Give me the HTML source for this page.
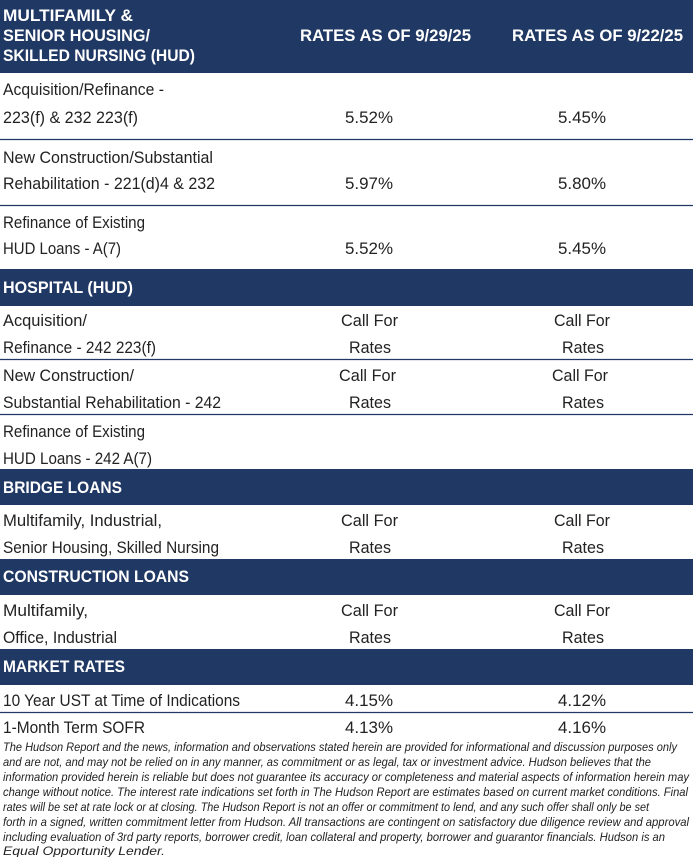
<!DOCTYPE html>
<html><head><meta charset="utf-8"><style>
html,body{margin:0;padding:0;background:#fff;}
svg{display:block;}
text{font-family:"Liberation Sans",sans-serif;}
.h{font-weight:bold;fill:#fff;font-size:17px;}
.b{fill:#222;font-size:16.5px;}
.f{fill:#222;font-size:12px;font-style:italic;}
</style></head><body>
<svg width="693" height="857" viewBox="0 0 693 857" xmlns="http://www.w3.org/2000/svg">
<rect x="0" y="0" width="693" height="73" fill="#203864"/>
<rect x="0" y="269" width="693" height="37" fill="#203864"/>
<rect x="0" y="469" width="693" height="36" fill="#203864"/>
<rect x="0" y="559" width="693" height="36" fill="#203864"/>
<rect x="0" y="649" width="693" height="36" fill="#203864"/>
<g stroke="#203864" stroke-width="1.3">
<line x1="0" y1="139.5" x2="693" y2="139.5"/>
<line x1="0" y1="205.5" x2="693" y2="205.5"/>
<line x1="0" y1="359.5" x2="693" y2="359.5"/>
<line x1="0" y1="414.5" x2="693" y2="414.5"/>
<line x1="0" y1="712.5" x2="693" y2="712.5"/>
</g>
<text class="h" x="3" y="21" textLength="130" lengthAdjust="spacingAndGlyphs">MULTIFAMILY &amp;</text>
<text class="h" x="3" y="41" textLength="147" lengthAdjust="spacingAndGlyphs">SENIOR HOUSING/</text>
<text class="h" x="3" y="61" textLength="192" lengthAdjust="spacingAndGlyphs">SKILLED NURSING (HUD)</text>
<text class="h" x="300" y="41" textLength="171" lengthAdjust="spacingAndGlyphs">RATES AS OF 9/29/25</text>
<text class="h" x="512" y="41" textLength="171" lengthAdjust="spacingAndGlyphs">RATES AS OF 9/22/25</text>

<text class="b" x="3" y="95" textLength="161" lengthAdjust="spacingAndGlyphs">Acquisition/Refinance -</text>
<text class="b" x="3" y="123" textLength="135" lengthAdjust="spacingAndGlyphs">223(f) &amp; 232 223(f)</text>
<text class="b" x="345" y="123" textLength="48" lengthAdjust="spacingAndGlyphs">5.52%</text>
<text class="b" x="558" y="123" textLength="48" lengthAdjust="spacingAndGlyphs">5.45%</text>

<text class="b" x="3" y="163" textLength="210" lengthAdjust="spacingAndGlyphs">New Construction/Substantial</text>
<text class="b" x="3" y="189" textLength="212" lengthAdjust="spacingAndGlyphs">Rehabilitation - 221(d)4 &amp; 232</text>
<text class="b" x="345" y="189" textLength="48" lengthAdjust="spacingAndGlyphs">5.97%</text>
<text class="b" x="558" y="189" textLength="48" lengthAdjust="spacingAndGlyphs">5.80%</text>

<text class="b" x="3" y="228" textLength="142" lengthAdjust="spacingAndGlyphs">Refinance of Existing</text>
<text class="b" x="3" y="254" textLength="118" lengthAdjust="spacingAndGlyphs">HUD Loans - A(7)</text>
<text class="b" x="345" y="254" textLength="48" lengthAdjust="spacingAndGlyphs">5.52%</text>
<text class="b" x="558" y="254" textLength="48" lengthAdjust="spacingAndGlyphs">5.45%</text>

<text class="h" x="3" y="293" textLength="130" lengthAdjust="spacingAndGlyphs">HOSPITAL (HUD)</text>

<text class="b" x="3" y="326" textLength="84" lengthAdjust="spacingAndGlyphs">Acquisition/</text>
<text class="b" x="3" y="353" textLength="153" lengthAdjust="spacingAndGlyphs">Refinance - 242 223(f)</text>
<text class="b" x="341" y="326" textLength="57" lengthAdjust="spacingAndGlyphs">Call For</text>
<text class="b" x="349" y="353" textLength="42" lengthAdjust="spacingAndGlyphs">Rates</text>
<text class="b" x="554" y="326" textLength="56" lengthAdjust="spacingAndGlyphs">Call For</text>
<text class="b" x="562" y="353" textLength="42" lengthAdjust="spacingAndGlyphs">Rates</text>

<text class="b" x="3" y="381" textLength="131" lengthAdjust="spacingAndGlyphs">New Construction/</text>
<text class="b" x="3" y="408" textLength="218" lengthAdjust="spacingAndGlyphs">Substantial Rehabilitation - 242</text>
<text class="b" x="339" y="381" textLength="57" lengthAdjust="spacingAndGlyphs">Call For</text>
<text class="b" x="349" y="408" textLength="42" lengthAdjust="spacingAndGlyphs">Rates</text>
<text class="b" x="552" y="381" textLength="56" lengthAdjust="spacingAndGlyphs">Call For</text>
<text class="b" x="562" y="408" textLength="42" lengthAdjust="spacingAndGlyphs">Rates</text>

<text class="b" x="3" y="437" textLength="142" lengthAdjust="spacingAndGlyphs">Refinance of Existing</text>
<text class="b" x="3" y="464" textLength="149" lengthAdjust="spacingAndGlyphs">HUD Loans - 242 A(7)</text>

<text class="h" x="3" y="493" textLength="119" lengthAdjust="spacingAndGlyphs">BRIDGE LOANS</text>
<text class="b" x="3" y="526" textLength="159" lengthAdjust="spacingAndGlyphs">Multifamily, Industrial,</text>
<text class="b" x="3" y="553" textLength="216" lengthAdjust="spacingAndGlyphs">Senior Housing, Skilled Nursing</text>
<text class="b" x="341" y="526" textLength="57" lengthAdjust="spacingAndGlyphs">Call For</text>
<text class="b" x="349" y="553" textLength="42" lengthAdjust="spacingAndGlyphs">Rates</text>
<text class="b" x="554" y="526" textLength="56" lengthAdjust="spacingAndGlyphs">Call For</text>
<text class="b" x="562" y="553" textLength="42" lengthAdjust="spacingAndGlyphs">Rates</text>

<text class="h" x="3" y="582" textLength="186" lengthAdjust="spacingAndGlyphs">CONSTRUCTION LOANS</text>
<text class="b" x="3" y="616" textLength="85" lengthAdjust="spacingAndGlyphs">Multifamily,</text>
<text class="b" x="3" y="643" textLength="114" lengthAdjust="spacingAndGlyphs">Office, Industrial</text>
<text class="b" x="341" y="616" textLength="57" lengthAdjust="spacingAndGlyphs">Call For</text>
<text class="b" x="349" y="643" textLength="42" lengthAdjust="spacingAndGlyphs">Rates</text>
<text class="b" x="554" y="616" textLength="56" lengthAdjust="spacingAndGlyphs">Call For</text>
<text class="b" x="562" y="643" textLength="42" lengthAdjust="spacingAndGlyphs">Rates</text>

<text class="h" x="3" y="672" textLength="122" lengthAdjust="spacingAndGlyphs">MARKET RATES</text>
<text class="b" x="3" y="706" textLength="237" lengthAdjust="spacingAndGlyphs">10 Year UST at Time of Indications</text>
<text class="b" x="345" y="706" textLength="48" lengthAdjust="spacingAndGlyphs">4.15%</text>
<text class="b" x="558" y="706" textLength="48" lengthAdjust="spacingAndGlyphs">4.12%</text>
<text class="b" x="3" y="733" textLength="142" lengthAdjust="spacingAndGlyphs">1-Month Term SOFR</text>
<text class="b" x="345" y="733" textLength="48" lengthAdjust="spacingAndGlyphs">4.13%</text>
<text class="b" x="558" y="733" textLength="48" lengthAdjust="spacingAndGlyphs">4.16%</text>

<text class="f" x="3" y="751" textLength="674" lengthAdjust="spacingAndGlyphs">The Hudson Report and the news, information and observations stated herein are provided for informational and discussion purposes only</text>
<text class="f" x="3" y="766" textLength="648" lengthAdjust="spacingAndGlyphs">and are not, and may not be relied on in any manner, as commitment or as legal, tax or investment advice. Hudson believes that the</text>
<text class="f" x="3" y="781" textLength="686" lengthAdjust="spacingAndGlyphs">information provided herein is reliable but does not guarantee its accuracy or completeness and material aspects of information herein may</text>
<text class="f" x="3" y="796" textLength="685" lengthAdjust="spacingAndGlyphs">change without notice. The interest rate indications set forth in The Hudson Report are estimates based on current market conditions. Final</text>
<text class="f" x="3" y="811" textLength="646" lengthAdjust="spacingAndGlyphs">rates will be set at rate lock or at closing. The Hudson Report is not an offer or commitment to lend, and any such offer shall only be set</text>
<text class="f" x="3" y="826" textLength="686" lengthAdjust="spacingAndGlyphs">forth in a signed, written commitment letter from Hudson. All transactions are contingent on satisfactory due diligence review and approval</text>
<text class="f" x="3" y="841" textLength="662" lengthAdjust="spacingAndGlyphs">including evaluation of 3rd party reports, borrower credit, loan collateral and property, borrower and guarantor financials. Hudson is an</text>
<text class="f" x="3" y="855" textLength="162" lengthAdjust="spacingAndGlyphs">Equal Opportunity Lender.</text>
</svg>
</body></html>
